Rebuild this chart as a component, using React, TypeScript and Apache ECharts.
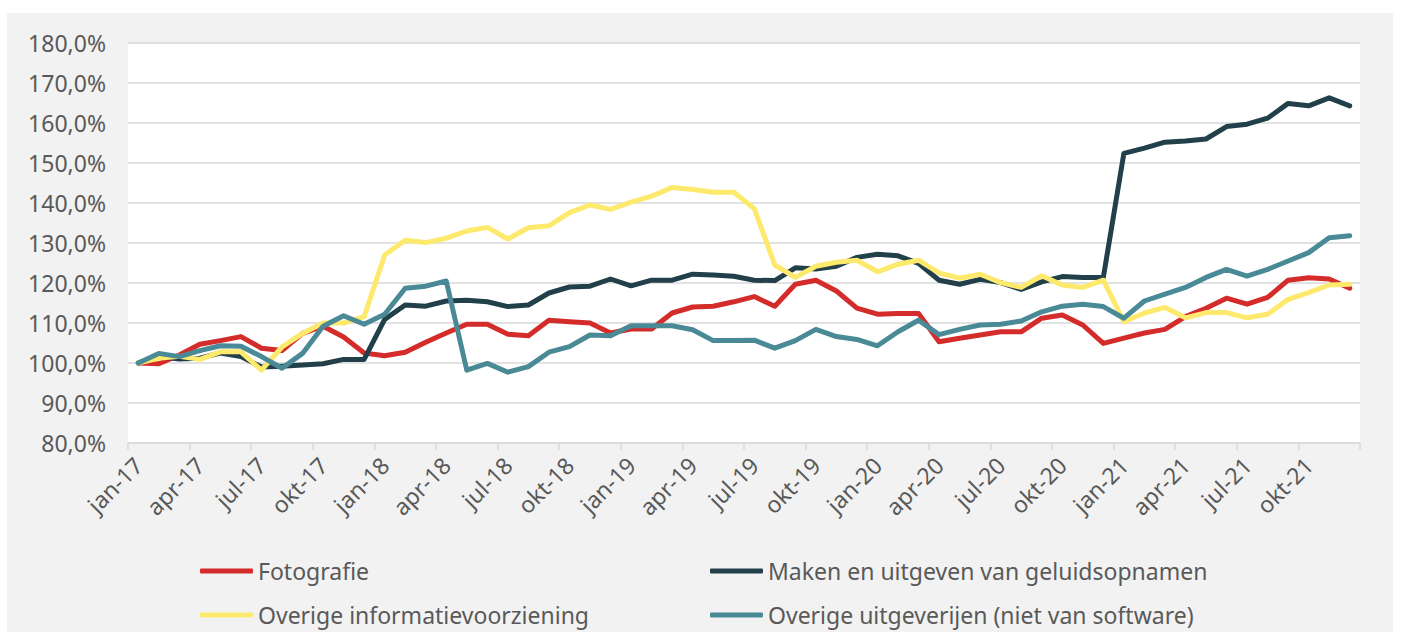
import React, { useEffect, useRef } from "react";
import * as echarts from "echarts";

const monthNames = ["jan", "feb", "mrt", "apr", "mei", "jun", "jul", "aug", "sep", "okt", "nov", "dec"];
const years = ["17", "18", "19", "20", "21"];

const fotografie = [
  100, 99.8, 102, 104.7, 105.6, 106.6, 103.7, 103.1, 107.4, 109.2,
  106.5, 102.5, 101.8, 102.7, 105.2, 107.5, 109.7, 109.7, 107.2, 106.8,
  110.7, 110.3, 110, 107.5, 108.5, 108.5, 112.5, 114, 114.2, 115.3,
  116.6, 114.2, 119.7, 120.7, 118, 113.7, 112.2, 112.4, 112.4, 105.3,
  106.2, 107, 107.8, 107.8, 111.2, 112, 109.5, 104.9, 106.2, 107.5,
  108.4, 111.6, 113.7, 116.2, 114.7, 116.4, 120.7, 121.3, 121, 118.7,
];

const geluidsopnamen = [
  100, 101.6, 101, 101.2, 102.5, 101.6, 99, 99.2, 99.5, 99.8,
  100.9, 100.9, 110.9, 114.5, 114.2, 115.5, 115.7, 115.3, 114.1, 114.5,
  117.5, 119, 119.2, 121, 119.3, 120.7, 120.7, 122.2, 122, 121.7,
  120.7, 120.6, 123.8, 123.5, 124.2, 126.4, 127.2, 126.8, 124.9, 120.7,
  119.7, 120.9, 120.1, 118.4, 120.3, 121.6, 121.4, 121.4, 152.4, 153.7,
  155.2, 155.5, 156, 159.1, 159.7, 161.2, 164.9, 164.3, 166.3, 164.3,
];

const informatievoorziening = [
  100, 101.2, 101.7, 100.9, 102.8, 102.8, 98.2, 104, 107.4, 110,
  110, 111.6, 127, 130.7, 130.1, 131.2, 133, 133.9, 131, 133.8,
  134.3, 137.6, 139.5, 138.4, 140.2, 141.7, 143.9, 143.4, 142.7, 142.7,
  138.6, 124.5, 121.4, 124.2, 125.2, 125.7, 122.8, 124.7, 125.7, 122.5,
  121.2, 122.2, 120.1, 118.9, 121.8, 119.5, 118.9, 120.7, 110.3, 112.5,
  113.9, 111.3, 112.6, 112.6, 111.3, 112.2, 115.9, 117.6, 119.5, 119.7,
];

const uitgeverijen = [
  100, 102.4, 101.6, 103.1, 104.3, 104.2, 101.6, 98.7, 102.4, 109.2,
  111.8, 109.7, 112.2, 118.7, 119.2, 120.5, 98.2, 99.9, 97.7, 99.1,
  102.7, 104.1, 107, 106.8, 109.3, 109.3, 109.3, 108.3, 105.6, 105.6,
  105.7, 103.7, 105.6, 108.4, 106.6, 105.9, 104.3, 107.8, 110.7, 107.1,
  108.4, 109.5, 109.7, 110.5, 112.8, 114.2, 114.7, 114.1, 111.2, 115.5,
  117.2, 118.9, 121.4, 123.4, 121.7, 123.4, 125.5, 127.6, 131.3, 131.8,
];

const seriesNames = [
  "Fotografie",
  "Maken en uitgeven van geluidsopnamen",
  "Overige informatievoorziening",
  "Overige uitgeverijen (niet van software)",
];
const seriesColors = ["#d42b2b", "#21404a", "#fde96c", "#4a8a96"];
const seriesData = [fotografie, geluidsopnamen, informatievoorziening, uitgeverijen];

const categories: string[] = [];
years.forEach((y) => monthNames.forEach((m) => categories.push(`${m}-${y}`)));

const FONT = "'Noto Sans', sans-serif";
const TEXT = "#595959";
const GRID = "#d9d9d9";

export default function App() {
  const ref = useRef<HTMLDivElement>(null);

  useEffect(() => {
    document.body.style.margin = "0";
    document.body.style.overflow = "hidden";
    if (!ref.current) return;
    const chart = echarts.init(ref.current, undefined, { renderer: "svg" });
    const legendText = { fontFamily: FONT, fontSize: 23, color: TEXT, lineHeight: 24 };
    const legendBase = {
      orient: "vertical",
      top: 554,
      itemWidth: 53,
      itemHeight: 5,
      itemGap: 20,
      icon: "roundRect",
      textStyle: legendText,
    };
    chart.setOption({
      animation: false,
      backgroundColor: "transparent",
      grid: {
        left: 128,
        right: 42,
        top: 43,
        bottom: 199,
        show: true,
        backgroundColor: "#ffffff",
        borderWidth: 0,
      },
      legend: [
        { ...legendBase, left: 195, data: [seriesNames[0], seriesNames[2]] },
        { ...legendBase, left: 705, data: [seriesNames[1], seriesNames[3]] },
      ],
      xAxis: {
        type: "category",
        data: categories,
        boundaryGap: true,
        axisLine: { show: true, lineStyle: { color: GRID, width: 1.5 } },
        axisTick: { show: true, interval: 2, length: 7, lineStyle: { color: GRID, width: 1.5 } },
        axisLabel: {
          interval: 2,
          rotate: 45,
          margin: 18,
          fontFamily: FONT,
          fontSize: 23,
          color: TEXT,
        },
        splitLine: { show: false },
      },
      yAxis: {
        type: "value",
        min: 80,
        max: 180,
        interval: 10,
        axisLine: { show: false },
        axisTick: { show: false },
        axisLabel: {
          margin: 22,
          fontFamily: FONT,
          fontSize: 23,
          color: TEXT,
          formatter: (v: number) => v.toFixed(1).replace(".", ",") + "%",
        },
        splitLine: { show: true, lineStyle: { color: GRID, width: 1.5 } },
      },
      series: seriesNames.map((name, i) => ({
        name,
        type: "line",
        data: seriesData[i],
        showSymbol: false,
        symbol: "none",
        color: seriesColors[i],
        lineStyle: { width: 5, color: seriesColors[i], cap: "round", join: "round" },
      })),
    });
    return () => chart.dispose();
  }, []);

  return (
    <div style={{ position: "relative", width: 1402, height: 642, background: "#ffffff" }}>
      <div
        style={{
          position: "absolute",
          left: 7,
          top: 13,
          width: 1386,
          height: 619,
          background: "#f2f2f2",
        }}
      />
      <div ref={ref} style={{ position: "absolute", left: 0, top: 0, width: 1402, height: 642 }} />
    </div>
  );
}
